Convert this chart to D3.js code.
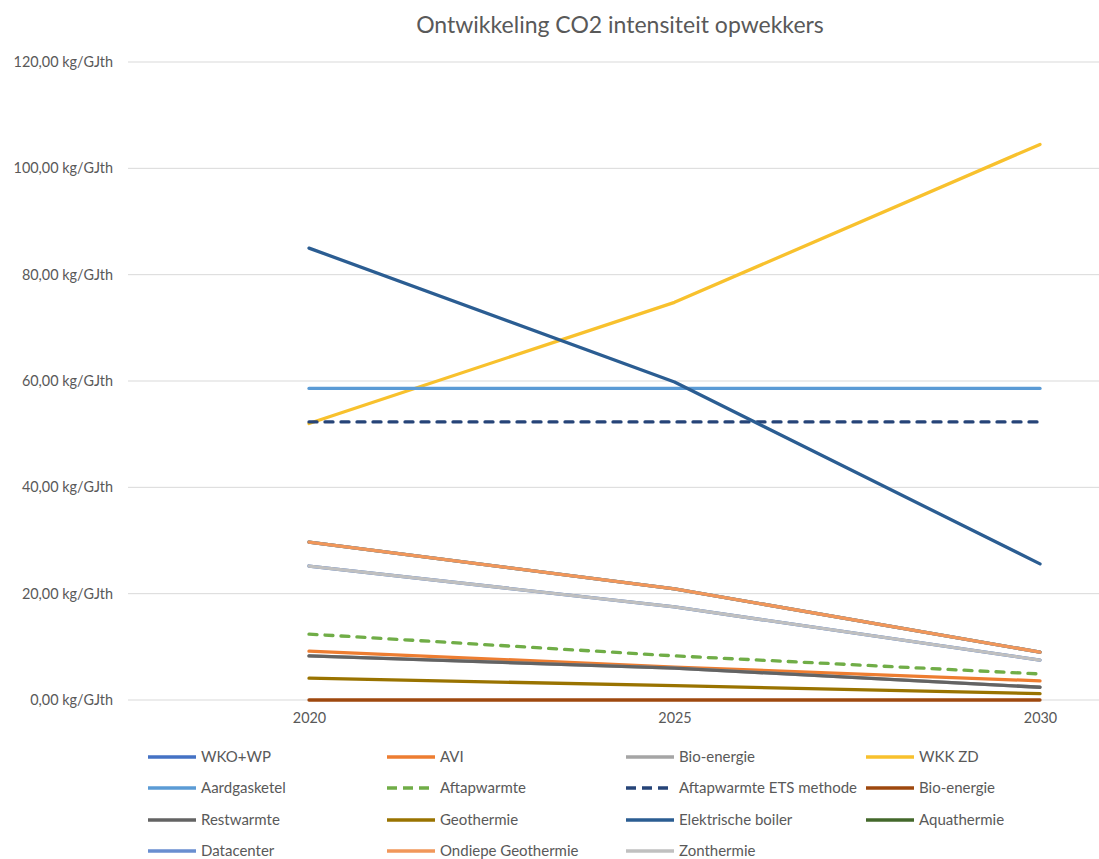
<!DOCTYPE html>
<html>
<head>
<meta charset="utf-8">
<script src="https://cdn.jsdelivr.net/npm/d3@7/dist/d3.min.js"></script>
<style>
  html, body { margin: 0; padding: 0; background: #fff; overflow: hidden; }
  svg { display: block; font-family: Lato, "Open Sans", "Liberation Sans", sans-serif; }
</style>
</head>
<body>
<svg id="chart" width="1099" height="859"></svg>
<script>
const title = "Ontwikkeling CO2 intensiteit opwekkers";
const years = ["2020", "2025", "2030"];
const yTicks = [0, 20, 40, 60, 80, 100, 120];

const seriesNames = [
  "WKO+WP", "AVI", "Bio-energie", "WKK ZD",
  "Aardgasketel", "Aftapwarmte", "Aftapwarmte ETS methode", "Bio-energie",
  "Restwarmte", "Geothermie", "Elektrische boiler", "Aquathermie",
  "Datacenter", "Ondiepe Geothermie", "Zonthermie"
];
const wkoWp         = [25.2, 17.5, 7.5];
const avi           = [9.2, 6.2, 3.6];
const bioEnergie1   = [8.3, 6.0, 2.4];
const wkkZd         = [52.0, 74.8, 104.5];
const aardgasketel  = [58.6, 58.6, 58.6];
const aftapwarmte   = [12.4, 8.3, 4.9];
const aftapEts      = [52.3, 52.3, 52.3];
const bioEnergie2   = [0, 0, 0];
const restwarmte    = [8.3, 6.0, 2.4];
const geothermie    = [4.1, 2.7, 1.2];
const elekBoiler    = [85.0, 59.8, 25.6];
const aquathermie   = [29.7, 20.9, 9.0];
const datacenter    = [29.7, 20.9, 9.0];
const ondiepeGeo    = [29.7, 20.9, 9.0];
const zonthermie    = [25.2, 17.5, 7.5];

const seriesValues = [wkoWp, avi, bioEnergie1, wkkZd, aardgasketel, aftapwarmte, aftapEts,
  bioEnergie2, restwarmte, geothermie, elekBoiler, aquathermie, datacenter, ondiepeGeo, zonthermie];

const colors = ["#4472C4", "#ED7D31", "#A5A5A5", "#F8C12D", "#5B9BD5", "#70AD47", "#264478",
  "#9E480E", "#636363", "#997300", "#2B5D92", "#43682B", "#698ED0", "#F1975A", "#C0C0C0"];
const dashed = [false, false, false, false, false, true, true, false, false, false, false, false, false, false, false];

const svg = d3.select("#chart");
const textColor = "#595959";

const x = d3.scalePoint().domain(years).range([309, 1040]);
const y = d3.scaleLinear().domain([0, 120]).range([700, 62]);

// title
svg.append("text").attr("x", 620).attr("y", 33).attr("text-anchor", "middle")
  .attr("fill", textColor).attr("font-size", 23).text(title);

// gridlines
svg.append("g").selectAll("line").data(yTicks).join("line")
  .attr("x1", 128).attr("x2", 1099)
  .attr("y1", d => y(d)).attr("y2", d => y(d))
  .attr("stroke", "#D9D9D9").attr("stroke-width", 1);

// y axis labels
const fmt = d => d.toFixed(2).replace(".", ",") + " kg/GJth";
const yAxis = d3.axisLeft(y).tickValues(yTicks).tickFormat(fmt).tickSize(0).tickPadding(0);
const gy = svg.append("g").attr("transform", "translate(113,0)").call(yAxis);
gy.select(".domain").remove();
gy.selectAll("text").attr("fill", textColor).attr("font-size", 14.4).attr("font-family", "Lato, 'Open Sans', sans-serif");

// x axis labels
const xAxis = d3.axisBottom(x).tickSize(0).tickPadding(0);
const gx = svg.append("g").attr("transform", "translate(0,713)").call(xAxis);
gx.select(".domain").remove();
gx.selectAll("text").attr("fill", textColor).attr("font-size", 14.4).attr("font-family", "Lato, 'Open Sans', sans-serif");

// lines
const line = d3.line().x((d, i) => x(years[i])).y(d => y(d));
const data = seriesNames.map((n, i) => ({ name: n, values: seriesValues[i], color: colors[i], dashed: dashed[i] }));
svg.append("g").selectAll("path").data(data).join("path")
  .attr("d", d => line(d.values))
  .attr("fill", "none")
  .attr("stroke", d => d.color)
  .attr("stroke-width", 3.3)
  .attr("stroke-linecap", "round")
  .attr("stroke-linejoin", "round")
  .attr("stroke-dasharray", d => d.dashed ? "8,8" : null);

// legend
const colX = [148, 387, 626, 866];
const rowY = [757, 788, 820, 851];
const lg = svg.append("g").selectAll("g").data(data).join("g")
  .attr("transform", (d, i) => `translate(${colX[i % 4]},${rowY[Math.floor(i / 4)]})`);
lg.append("line").attr("x1", 0).attr("x2", 48).attr("y1", 0).attr("y2", 0)
  .attr("stroke", d => d.color).attr("stroke-width", 3.3)
  .attr("stroke-dasharray", d => d.dashed ? "10,6" : null);
lg.append("text").attr("x", 53).attr("y", 0).attr("dy", "0.35em")
  .attr("fill", textColor).attr("font-size", 15).text(d => d.name);
</script>
</body>
</html>
